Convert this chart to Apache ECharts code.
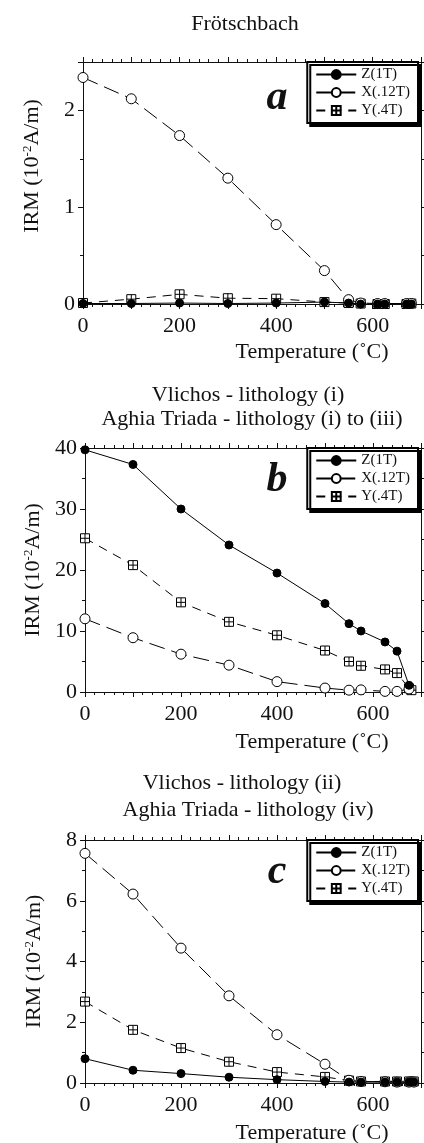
<!DOCTYPE html>
<html>
<head>
<meta charset="utf-8">
<script src="https://cdn.jsdelivr.net/npm/echarts@6/dist/echarts.min.js"></script>
<style>
  html, body { margin: 0; padding: 0; background: #fff; }
  #chart { width: 424px; height: 1143px; }
</style>
</head>
<body>
<div id="chart"></div>
<script>
// temperatures (°C) of each thermal demagnetisation step
const tempsA = [0, 100, 200, 300, 400, 500, 550, 575, 610, 625, 670, 680]
const tempsB = [0, 100, 200, 300, 400, 500, 550, 575, 625, 650, 675, 680]
const tempsC = [0, 100, 200, 300, 400, 500, 550, 575, 625, 650, 675, 685]

// a - Frötschbach
const zA = [0.005, 0.005, 0.01, 0.005, 0.01, 0.02, 0.01, 0, 0, 0, 0, 0]
const xA = [2.34, 2.12, 1.74, 1.30, 0.82, 0.345, 0.045, 0.01, 0.005, 0.005, 0.005, 0.005]
const yA = [0.01, 0.05, 0.10, 0.06, 0.055, 0.02, 0.01, 0.005, 0, 0, 0, 0.005]

// b - Vlichos (i) / Aghia Triada (i)-(iii)
const zB = [39.7, 37.3, 30.0, 24.1, 19.5, 14.5, 11.2, 10.0, 8.2, 6.7, 1.1, null]
const xB = [12.0, 8.9, 6.2, 4.4, 1.7, 0.65, 0.3, 0.35, 0.1, 0.1, 0.5, null]
const yB = [25.2, 20.8, 14.7, 11.5, 9.3, 6.8, 5.0, 4.3, 3.7, 3.1, 0.6, 0.3]

// c - Vlichos (ii) / Aghia Triada (iv)
const zC = [0.80, 0.42, 0.31, 0.19, 0.11, 0.05, 0.03, 0.03, 0.03, 0.03, 0.03, 0.03]
const xC = [7.56, 6.22, 4.44, 2.87, 1.59, 0.62, 0.09, 0.05, 0.04, 0.03, 0.03, 0.03]
const yC = [2.68, 1.75, 1.15, 0.70, 0.36, 0.20, 0.08, 0.05, 0.05, 0.05, 0.05, 0.05]

const seriesNames = ['Z(1T)', 'X(.12T)', 'Y(.4T)']
const yMaxes = [2.5, 40, 8]
const yIntervals = [1, 10, 2]
const panelLetters = ['a', 'b', 'c']

const FONT = '"Liberation Serif", "DejaVu Serif", serif'
const INK = '#111'

const grids = [
  { left: 83, top: 62, right: 3, height: 242 },
  { left: 85, top: 448, right: 3, height: 244 },
  { left: 85, top: 840, right: 3, height: 243 }
]

const zip = (t, v) => t.map((x, i) => [x, v[i]]).filter(p => p[1] !== null)

const boxCross = 'path://M0,0H10V10H0Z M5,0V10 M0,5H10'

const styleFor = name => {
  if (name === 'Z(1T)') return {
    symbol: 'circle', symbolSize: 8,
    itemStyle: { color: '#000', borderColor: '#000', borderWidth: 1 },
    lineStyle: { color: '#000', width: 1, type: 'solid' }
  }
  if (name === 'X(.12T)') return {
    symbol: 'circle', symbolSize: 10,
    itemStyle: { color: '#fff', borderColor: '#000', borderWidth: 1 },
    lineStyle: { color: '#000', width: 1, type: [16, 7] }
  }
  return {
    symbol: boxCross, symbolSize: 9,
    itemStyle: { color: '#fff', borderColor: '#000', borderWidth: 1 },
    lineStyle: { color: '#000', width: 1, type: [9, 7] }
  }
}

const panelData = [
  [zip(tempsA, zA), zip(tempsA, xA), zip(tempsA, yA)],
  [zip(tempsB, zB), zip(tempsB, xB), zip(tempsB, yB)],
  [zip(tempsC, zC), zip(tempsC, xC), zip(tempsC, yC)]
]

const lineOpts = { show: true, onZero: false, lineStyle: { color: INK, width: 1 } }
const tickOpts = { show: true, inside: false, length: 5, lineStyle: { color: INK } }

const xAxes = []
const yAxes = []
grids.forEach((g, i) => {
  xAxes.push({
    gridIndex: i, type: 'value', min: 0, max: 700, interval: 100, position: 'bottom',
    axisLine: lineOpts, axisTick: tickOpts,
    minorTick: { show: true, splitNumber: 5, length: 3, lineStyle: { color: INK } },
    splitLine: { show: false },
    axisLabel: {
      margin: 11, color: INK, fontFamily: FONT, fontSize: 22,
      formatter: v => (v % 200 === 0 && v < 700 ? String(v) : '')
    }
  })
})
grids.forEach((g, i) => {
  xAxes.push({
    gridIndex: i, type: 'value', min: 0, max: 700, interval: 100, position: 'top',
    axisLine: lineOpts, axisTick: tickOpts,
    minorTick: { show: true, splitNumber: 5, length: 3, lineStyle: { color: INK } },
    axisLabel: { show: false }, splitLine: { show: false }
  })
})
grids.forEach((g, i) => {
  yAxes.push({
    gridIndex: i, type: 'value', min: 0, max: yMaxes[i], interval: yIntervals[i],
    position: 'left',
    name: '{a|IRM (10}{s|-2}{a|A/m)}',
    nameLocation: 'middle', nameGap: 40, nameRotate: 90,
    nameTextStyle: {
      padding: i === 0 ? [0, 0, 0, 34] : 0,
      rich: {
        a: { fontFamily: FONT, fontSize: 22, color: INK },
        s: { fontFamily: FONT, fontSize: 13, color: INK, verticalAlign: 'top' }
      }
    },
    axisLine: lineOpts, axisTick: tickOpts,
    minorTick: { show: true, splitNumber: 2, length: 3, lineStyle: { color: INK } },
    axisLabel: { margin: 8, color: INK, fontFamily: FONT, fontSize: 22, showMaxLabel: i !== 0 },
    splitLine: { show: false }
  })
})
grids.forEach((g, i) => {
  yAxes.push({
    gridIndex: i, type: 'value', min: 0, max: yMaxes[i], interval: yIntervals[i],
    position: 'right',
    axisLine: lineOpts, axisTick: tickOpts,
    minorTick: { show: true, splitNumber: 2, length: 3, lineStyle: { color: INK } },
    axisLabel: { show: false }, splitLine: { show: false }
  })
})

const series = []
panelData.forEach((sets, i) => {
  sets.forEach((data, k) => {
    const name = seriesNames[k]
    series.push(Object.assign({
      name, type: 'line', xAxisIndex: i, yAxisIndex: i,
      data, showAllSymbol: true, animation: false,
      z: 3 - k
    }, styleFor(name)))
  })
})

const legends = grids.map(g => ({
  data: seriesNames,
  orient: 'vertical', right: 6, top: g.top,
  itemWidth: 40, itemHeight: 11, itemGap: 3,
  padding: [5, 8, 5, 8],
  backgroundColor: '#fff',
  borderColor: '#000', borderWidth: 2, borderRadius: 0,
  shadowColor: '#000', shadowBlur: 0, shadowOffsetX: 3, shadowOffsetY: 3,
  selectedMode: false,
  textStyle: { fontFamily: FONT, fontSize: 15, color: INK }
}))

const txt = (text, x, y, size, extra) => ({
  type: 'text', x, y, silent: true,
  style: Object.assign({
    text, font: `${size}px ${FONT}`, fill: INK,
    textAlign: 'center', textVerticalAlign: 'middle'
  }, extra || {})
})

const graphics = [
  txt('Frötschbach', 245, 24, 22),
  txt('Vlichos - lithology (i)', 248, 395, 22),
  txt('Aghia Triada - lithology (i) to (iii)', 252, 419, 22),
  txt('Vlichos - lithology (ii)', 242, 783, 22),
  txt('Aghia Triada - lithology (iv)', 248, 810, 22),
  txt('Temperature (˚C)', 312, 352, 22),
  txt('Temperature (˚C)', 312, 742, 22),
  txt('Temperature (˚C)', 312, 1133, 22),
  txt(panelLetters[0], 277, 98, 42, { font: `italic bold 42px ${FONT}` }),
  txt(panelLetters[1], 277, 480, 42, { font: `italic bold 42px ${FONT}` }),
  txt(panelLetters[2], 277, 872, 42, { font: `italic bold 42px ${FONT}` })
]

const chart = echarts.init(document.getElementById('chart'), null, { renderer: 'canvas' })
chart.setOption({
  animation: false,
  backgroundColor: '#fff',
  grid: grids,
  xAxis: xAxes,
  yAxis: yAxes,
  legend: legends,
  series,
  graphic: graphics
})
</script>
</body>
</html>
